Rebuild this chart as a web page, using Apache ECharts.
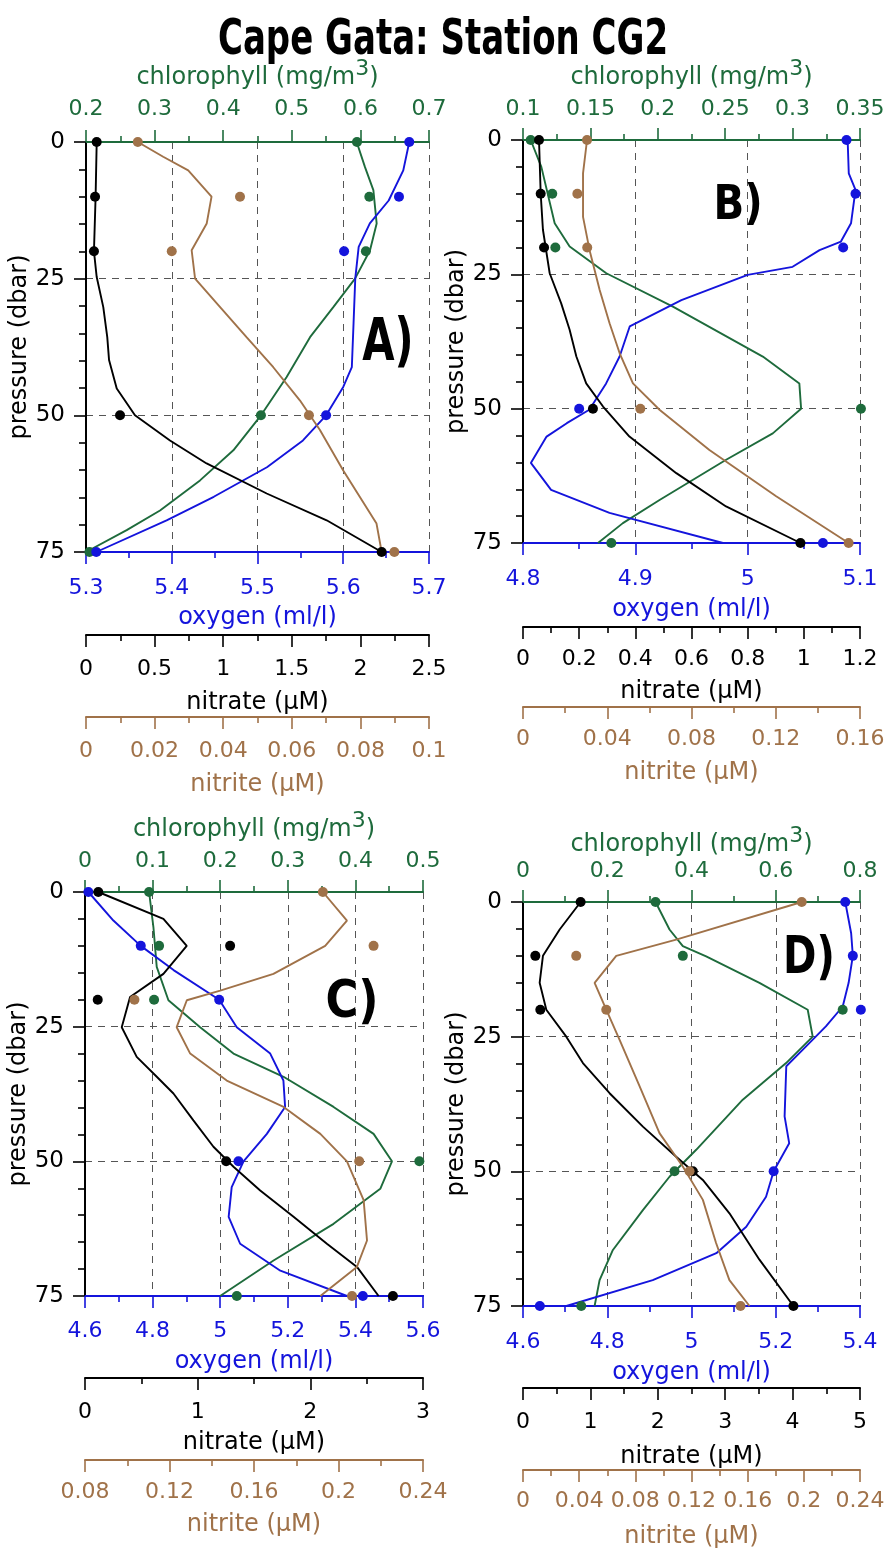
<!DOCTYPE html>
<html><head><meta charset="utf-8">
<script src="https://cdn.jsdelivr.net/npm/echarts@6/dist/echarts.min.js"></script>
<style>html,body{margin:0;padding:0;background:#fff}#c{width:887px;height:1549px}</style>
</head><body><div id="c"></div>
<script>
// ---------------- DATA ----------------
const dotDepth = [0, 10, 20, 50, 75];

// Panel A
const A_no3_dots = [0.078, 0.066, 0.058, 0.248, 2.155];
const A_no2_dots = [0.0151, 0.0449, 0.025, 0.065, 0.0899];
const A_chl_dots = [0.595, 0.613, 0.608, 0.455, 0.205];
const A_o2_dots  = [5.677, 5.665, 5.601, 5.580, 5.312];
const A_no3_line_p = [0, 10, 20, 24.7, 30.2, 35.7, 39.9, 45.1, 50, 54.6, 58.8, 64.3, 69.2, 75];
const A_no3_line   = [0.078, 0.070, 0.058, 0.078, 0.126, 0.155, 0.168, 0.224, 0.357, 0.612, 0.879, 1.317, 1.754, 2.155];
const A_no2_line_p = [0, 2.7, 5.2, 10, 14.9, 19.8, 25, 30.2, 35.7, 41.2, 47.3, 52.7, 60.1, 65.5, 69.8, 75];
const A_no2_line   = [0.0151, 0.0225, 0.0298, 0.0366, 0.0352, 0.0308, 0.0318, 0.0391, 0.0468, 0.0546, 0.0624, 0.0682, 0.075, 0.0804, 0.0847, 0.0862];
const A_chl_line_p = [0, 4.6, 8.8, 14.9, 19.8, 25, 30.2, 35.7, 43, 50, 56.4, 61.9, 67.4, 71, 75];
const A_chl_line   = [0.5946, 0.6067, 0.6189, 0.6237, 0.614, 0.5922, 0.5605, 0.5266, 0.4925, 0.4551, 0.4148, 0.3662, 0.3079, 0.2593, 0.2];
const A_o2_line_p  = [0, 5.2, 10.7, 14.9, 19.2, 25, 33.2, 41.2, 44.8, 50, 54.6, 59.5, 64.9, 69.2, 75];
const A_o2_line    = [5.677, 5.670, 5.653, 5.631, 5.618, 5.614, 5.612, 5.610, 5.600, 5.580, 5.553, 5.511, 5.449, 5.394, 5.312];

// Panel B
const B_no3_dots = [0.057, 0.063, 0.075, 0.249, 0.988];
const B_no2_dots = [0.0304, 0.0258, 0.0305, 0.0557, 0.1546];
const B_chl_dots = [0.1057, 0.1217, 0.124, 0.3507, 0.1655];
const B_o2_dots  = [5.088, 5.096, 5.085, 4.850, 5.067];
const B_no3_line_p = [0, 10, 16.7, 24.8, 30.4, 35.3, 40.3, 45.3, 49.6, 55.2, 62, 68.2, 75];
const B_no3_line   = [0.057, 0.063, 0.071, 0.095, 0.136, 0.166, 0.190, 0.225, 0.285, 0.379, 0.546, 0.723, 0.988];
const B_no2_line_p = [0, 6.2, 14.3, 20.5, 27.9, 34.1, 39.7, 45.3, 50.2, 57.7, 66.3, 75];
const B_no2_line   = [0.0304, 0.0285, 0.0285, 0.0316, 0.0364, 0.0411, 0.0459, 0.0522, 0.0648, 0.0885, 0.1202, 0.1546];
const B_chl_line_p = [0, 5, 15.5, 19.8, 24.8, 31, 40.3, 45.3, 50, 54.6, 59.5, 67, 71.3, 75];
const B_chl_line   = [0.1057, 0.1136, 0.1235, 0.1346, 0.1618, 0.2112, 0.2779, 0.305, 0.3063, 0.2853, 0.2507, 0.2013, 0.1741, 0.1556];
const B_o2_line_p  = [0, 6.2, 9.3, 15.5, 18.9, 20.5, 23.6, 25.1, 29.8, 34.7, 40.3, 45.3, 50.2, 52.7, 55.2, 60.1, 65.1, 69.4, 75];
const B_o2_line    = [5.089, 5.090, 5.096, 5.092, 5.083, 5.064, 5.040, 5.000, 4.941, 4.895, 4.886, 4.874, 4.859, 4.839, 4.821, 4.807, 4.825, 4.877, 4.978];

// Panel C
const C_no3_dots = [0.118, 1.288, 0.113, 1.253, 2.733];
const C_no2_dots = [0.1926, 0.2166, 0.1034, 0.2098, 0.2064];
const C_chl_dots = [0.0948, 0.1096, 0.1022, 0.4946, 0.2246];
const C_o2_dots  = [4.610, 4.765, 4.997, 5.054, 5.422];
const C_no3_line_p = [0, 5, 10, 15.2, 19.5, 25.1, 30.6, 34.3, 37.4, 42.4, 47.3, 51, 55.4, 60.3, 65.3, 69.6, 75];
const C_no3_line   = [0.118, 0.696, 0.903, 0.696, 0.4, 0.326, 0.459, 0.637, 0.785, 0.962, 1.14, 1.318, 1.555, 1.851, 2.147, 2.414, 2.606];
const C_no2_line_p = [0, 5.3, 10, 15.2, 18.3, 20.1, 25.1, 30, 35, 39.9, 44.9, 50, 57.2, 64.7, 69.6, 75];
const C_no2_line   = [0.1926, 0.204, 0.1937, 0.1692, 0.144, 0.1282, 0.1234, 0.1298, 0.1471, 0.174, 0.1914, 0.204, 0.2119, 0.2135, 0.2087, 0.1914];
const C_chl_line_p = [0, 6.5, 13.9, 20.1, 25.1, 30, 34.3, 39.9, 44.9, 50, 55.1, 61.6, 68.4, 75];
const C_chl_line   = [0.0948, 0.1012, 0.1061, 0.1234, 0.1703, 0.2196, 0.2937, 0.3677, 0.4269, 0.4541, 0.4368, 0.3677, 0.2789, 0.1999];
const C_o2_line_p  = [0, 5.3, 10, 14.5, 20, 25.1, 30, 35, 39.9, 44.9, 50, 54.8, 60.3, 65.3, 70.3, 75];
const C_o2_line    = [4.610, 4.684, 4.765, 4.862, 4.997, 5.049, 5.148, 5.187, 5.192, 5.138, 5.069, 5.034, 5.025, 5.059, 5.178, 5.375];

// Panel D
const D_no3_dots = [0.855, 0.183, 0.257, 2.52, 4.012];
const D_no2_dots = [0.1985, 0.0379, 0.0593, 0.1186, 0.1549];
const D_chl_dots = [0.3146, 0.3794, 0.7589, 0.3597, 0.1383];
const D_o2_dots  = [5.365, 5.383, 5.402, 5.195, 4.640];
const D_no3_line_p = [0, 5.1, 10, 15, 20, 25, 29.9, 35.5, 41.7, 47.3, 51.6, 57.8, 66.4, 75];
const D_no3_line   = [0.855, 0.544, 0.296, 0.247, 0.346, 0.642, 0.889, 1.285, 1.779, 2.273, 2.668, 3.063, 3.508, 4.012];
const D_no2_line_p = [0, 7, 10, 15, 20, 25.6, 34.2, 42.9, 49.1, 55.3, 63.3, 70.2, 75];
const D_no2_line   = [0.1985, 0.1091, 0.0664, 0.051, 0.0593, 0.0688, 0.083, 0.0972, 0.1138, 0.1281, 0.1375, 0.147, 0.1613];
const D_chl_line_p = [0, 5.1, 8.2, 10.1, 15, 20, 25, 29.9, 36.7, 46, 51, 57.2, 64.6, 70.2, 75];
const D_chl_line   = [0.3146, 0.3478, 0.3794, 0.4348, 0.5613, 0.6759, 0.6877, 0.6245, 0.5217, 0.4111, 0.3478, 0.2846, 0.2134, 0.1818, 0.17];
const D_o2_line_p  = [0, 5.8, 10, 15, 19.4, 23.1, 26.8, 30.5, 39.8, 44.8, 50, 54.7, 60.3, 65.2, 70.2, 75];
const D_o2_line    = [5.365, 5.379, 5.383, 5.373, 5.359, 5.319, 5.272, 5.225, 5.221, 5.232, 5.195, 5.177, 5.130, 5.059, 4.908, 4.703];

// axis ranges [min, max, interval]
const A_ranges = {chl: [0.2, 0.7, 0.1], o2: [5.3, 5.7, 0.1], no3: [0, 2.5, 0.5], no2: [0, 0.1, 0.02]};
const B_ranges = {chl: [0.1, 0.35, 0.05], o2: [4.8, 5.1, 0.1], no3: [0, 1.2, 0.2], no2: [0, 0.16, 0.04]};
const C_ranges = {chl: [0, 0.5, 0.1], o2: [4.6, 5.6, 0.2], no3: [0, 3, 1], no2: [0.08, 0.24, 0.04]};
const D_ranges = {chl: [0, 0.8, 0.2], o2: [4.6, 5.4, 0.2], no3: [0, 5, 1], no2: [0, 0.24, 0.04]};
const pressureRange = [0, 75, 25];

const title = 'Cape Gata: Station CG2';
const panelLetters = ['A)', 'B)', 'C)', 'D)'];

// ---------------- STYLE / LAYOUT ----------------
const FONT = 'DejaVu Sans';
const GREEN = '#1e6b3c', BLUE = '#1414dc', BLACK = '#000000', BROWN = '#a07249';
const DASH = {color: '#555', width: 1, type: [7, 6]};

const panels = [
  {ranges: A_ranges, grid: {left: 86, top: 142, width: 343, height: 410},
   lay: {chlM: 22, chlG: 52, o2M: 25, o2G: 54, no3O: 83, no3M: 23, no3G: 56, no2O: 165, no2M: 23, no2G: 56},
   dots: {no3: A_no3_dots, no2: A_no2_dots, chl: A_chl_dots, o2: A_o2_dots},
   lines: {no3: [A_no3_line, A_no3_line_p], no2: [A_no2_line, A_no2_line_p], chl: [A_chl_line, A_chl_line_p], o2: [A_o2_line, A_o2_line_p]},
   letter: {x: 388, y: 345, fs: 58, sx: 0.72}},
  {ranges: B_ranges, grid: {left: 523, top: 140, width: 337, height: 403},
   lay: {chlM: 20, chlG: 50, o2M: 25, o2G: 55, no3O: 84, no3M: 21, no3G: 53, no2O: 164, no2M: 21, no2G: 54},
   dots: {no3: B_no3_dots, no2: B_no2_dots, chl: B_chl_dots, o2: B_o2_dots},
   lines: {no3: [B_no3_line, B_no3_line_p], no2: [B_no2_line, B_no2_line_p], chl: [B_chl_line, B_chl_line_p], o2: [B_o2_line, B_o2_line_p]},
   letter: {x: 738, y: 207, fs: 48, sx: 0.84}},
  {ranges: C_ranges, grid: {left: 85, top: 892, width: 338, height: 404},
   lay: {chlM: 20, chlG: 50, o2M: 24, o2G: 54, no3O: 82, no3M: 23, no3G: 53, no2O: 164, no2M: 21, no2G: 53},
   dots: {no3: C_no3_dots, no2: C_no2_dots, chl: C_chl_dots, o2: C_o2_dots},
   lines: {no3: [C_no3_line, C_no3_line_p], no2: [C_no2_line, C_no2_line_p], chl: [C_chl_line, C_chl_line_p], o2: [C_o2_line, C_o2_line_p]},
   letter: {x: 352, y: 1004, fs: 51, sx: 0.87}},
  {ranges: D_ranges, grid: {left: 523, top: 902, width: 337, height: 404},
   lay: {chlM: 20, chlG: 45, o2M: 25, o2G: 55, no3O: 82, no3M: 23, no3G: 57, no2O: 164, no2M: 20, no2G: 55},
   dots: {no3: D_no3_dots, no2: D_no2_dots, chl: D_chl_dots, o2: D_o2_dots},
   lines: {no3: [D_no3_line, D_no3_line_p], no2: [D_no2_line, D_no2_line_p], chl: [D_chl_line, D_chl_line_p], o2: [D_o2_line, D_o2_line_p]},
   letter: {x: 809, y: 960, fs: 51, sx: 0.79}}
];

function makeX(gi, pos, offset, r, color, name, margin, gap, split, rich) {
  const ax = {
    type: 'value', gridIndex: gi, position: pos, offset: offset,
    min: r[0], max: r[1], interval: r[2],
    axisLine: {show: true, onZero: false, lineStyle: {color: color, width: 2}},
    axisTick: {show: true, inside: false, length: 12, lineStyle: {color: color, width: 1.6}},
    minorTick: {show: true, splitNumber: 2, length: 6, lineStyle: {color: color, width: 1.6}},
    axisLabel: {color: color, fontSize: 22, fontFamily: FONT, margin: margin, showMinLabel: true, showMaxLabel: true},
    splitLine: split ? {show: true, lineStyle: DASH} : {show: false},
    minorSplitLine: {show: false},
    name: name, nameLocation: 'middle', nameGap: gap,
    nameTextStyle: {color: color, fontSize: 24, fontFamily: FONT}
  };
  if (rich) {
    ax.nameTextStyle.rich = {
      a: {color: color, fontSize: 24, fontFamily: FONT, verticalAlign: 'bottom'},
      s: {color: color, fontSize: 22, fontFamily: FONT, verticalAlign: 'bottom', padding: [0, 0, 10, 0]}
    };
  }
  return ax;
}

const grids = [], xAxes = [], yAxes = [], series = [], graphics = [];

graphics.push({type: 'text', x: 443, y: 41, scaleX: 0.68, z: 100,
  style: {text: title, fontSize: 50, fontWeight: 'bold', fontFamily: FONT, fill: '#000',
          align: 'center', verticalAlign: 'middle', textAlign: 'center', textVerticalAlign: 'middle'}});

panels.forEach((p, gi) => {
  grids.push(Object.assign({outerBoundsMode: 'none', containLabel: false}, p.grid));
  const L = p.lay, R = p.ranges;
  xAxes.push(makeX(gi, 'top', 0, R.chl, GREEN, '{a|chlorophyll (mg/m}{s|3}{a|)}', L.chlM, L.chlG, false, true));
  xAxes.push(makeX(gi, 'bottom', 0, R.o2, BLUE, 'oxygen (ml/l)', L.o2M, L.o2G, true, false));
  xAxes.push(makeX(gi, 'bottom', L.no3O, R.no3, BLACK, 'nitrate (\u03bcM)', L.no3M, L.no3G, false, false));
  xAxes.push(makeX(gi, 'bottom', L.no2O, R.no2, BROWN, 'nitrite (\u03bcM)', L.no2M, L.no2G, false, false));
  yAxes.push({
    type: 'value', gridIndex: gi, inverse: true,
    min: pressureRange[0], max: pressureRange[1], interval: pressureRange[2],
    axisLine: {show: true, onZero: false, lineStyle: {color: BLACK, width: 2}},
    axisTick: {show: true, length: 12, lineStyle: {color: BLACK, width: 1.6}},
    minorTick: {show: true, splitNumber: 5, length: 7, lineStyle: {color: BLACK, width: 1.6}},
    axisLabel: {color: BLACK, fontSize: 23, fontFamily: FONT, margin: 21},
    splitLine: {show: true, lineStyle: DASH},
    name: 'pressure (dbar)', nameLocation: 'middle', nameGap: 48,
    nameTextStyle: {color: BLACK, fontSize: 24, fontFamily: FONT}
  });
  const keys = [['chl', 0, GREEN], ['o2', 1, BLUE], ['no3', 2, BLACK], ['no2', 3, BROWN]];
  keys.forEach(([k, off, col]) => {
    const [vals, depths] = p.lines[k];
    series.push({type: 'line', xAxisIndex: gi * 4 + off, yAxisIndex: gi, symbol: 'none', showSymbol: false,
      silent: true, animation: false, z: 3,
      lineStyle: {color: col, width: 1.9}, data: vals.map((v, i) => [v, depths[i]])});
  });
  keys.forEach(([k, off, col]) => {
    series.push({type: 'scatter', xAxisIndex: gi * 4 + off, yAxisIndex: gi, symbol: 'circle', symbolSize: 10,
      silent: true, animation: false, z: 4, clip: false,
      itemStyle: {color: col, opacity: 1}, data: p.dots[k].map((v, i) => [v, dotDepth[i]])});
  });
  graphics.push({type: 'text', x: p.letter.x, y: p.letter.y, scaleX: p.letter.sx, z: 100,
    style: {text: panelLetters[gi], fontSize: p.letter.fs, fontWeight: 'bold', fontFamily: FONT, fill: '#000',
            align: 'center', verticalAlign: 'middle', textAlign: 'center', textVerticalAlign: 'middle'}});
});

const chart = echarts.init(document.getElementById('c'), null, {renderer: 'canvas'});
chart.setOption({
  backgroundColor: '#ffffff',
  animation: false,
  grid: grids, xAxis: xAxes, yAxis: yAxes, series: series, graphic: graphics
});
</script></body></html>
